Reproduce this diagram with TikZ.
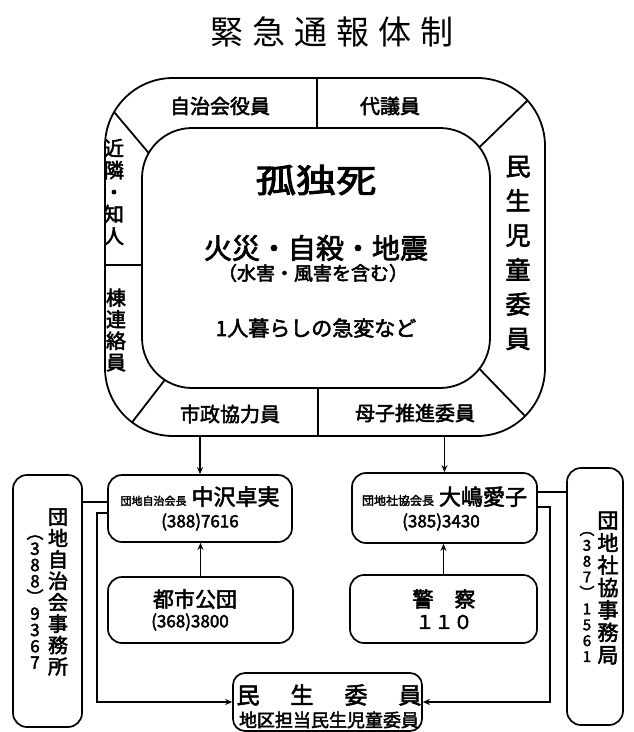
\documentclass[tikz,border=0pt]{standalone}
\usepackage{fontspec}
\usepackage{graphicx}
\newfontfamily\cjk[AutoFakeBold=2.5,BoldFeatures={FakeBold=1.2}]{Noto Sans CJK JP}
\usetikzlibrary{arrows.meta}
\newcommand\jf[2]{\cjk\bfseries\fontsize{#1}{#2}\selectfont}
\begin{document}
\begin{tikzpicture}[x=1pt,y=-1pt,
  ringline/.style={draw, line width=1.8pt, inner sep=0pt},
  box/.style={draw, line width=1.7pt, rounded corners=14pt, inner sep=0pt},
  lbl/.style={inner sep=0pt, align=center},
  conn/.style={line width=1.7pt},
  arr/.style={conn, -{Stealth[length=7pt,width=6pt]}},
]
\useasboundingbox[fill=white] (0,0) rectangle (633,732);

% title
\node[lbl, font=\cjk\fontsize{33}{36}\selectfont] (title) at (332,32)
  {緊\hspace{9pt}急\hspace{9pt}通\hspace{9pt}報\hspace{9pt}体\hspace{9pt}制};

% ring
\node[ringline, rounded corners=68pt, minimum width=440pt, minimum height=358pt] (ring) at (325,257) {};
\node[ringline, rounded corners=50pt, minimum width=348pt, minimum height=260pt] (core) at (316,258) {};

% dividers of the ring
\draw[line width=1.8pt] (317,78) -- (317,128);
\draw[line width=1.8pt] (318,388) -- (318,436);
\draw[line width=1.8pt] (105,265) -- (142,265);
\draw[line width=1.8pt] ([shift={(210:68)}]173,146) -- ([shift={(210:50)}]192,178);
\draw[line width=1.8pt] ([shift={(318:68)}]477,146) -- ([shift={(322:50)}]440,178);
\draw[line width=1.8pt] ([shift={(127:68)}]173,368) -- ([shift={(123:50)}]192,338);
\draw[line width=1.8pt] ([shift={(45:68)}]477,368) -- ([shift={(38:50)}]440,338);

% ring labels
\node[lbl, font=\jf{20}{22}] (jichikai) at (220,106) {自治会役員};
\node[lbl, font=\jf{20}{22}] (daigi) at (390,106) {代議員};
\node[lbl, font=\jf{20}{22}] (kinrin) at (114,192) {近\\隣\\・\\知\\人};
\node[lbl, font=\jf{20}{21.5}] (mune) at (116,330) {棟\\連\\絡\\員};
\node[lbl, font=\jf{25}{34.5}] (minji) at (518,253) {民\\生\\児\\童\\委\\員};
\node[lbl, font=\jf{20}{22}] (shisei) at (230,414) {市政協力員};
\node[lbl, font=\jf{20}{22}] (boshi) at (415,413) {母子推進委員};

% core texts
\node[lbl, font=\jf{33}{36}] (kodoku) at (316,180) {\scalebox{1.22}[1]{孤独死}};
\node[lbl, font=\jf{28}{30}] (kasai) at (316,248) {火災・自殺・地震};
\node[lbl, font=\jf{19}{22}] (suigai) at (313,273) {（水害・風害を含む）};
\node[lbl, font=\jf{21}{24}] (kurashi) at (316,328) {1人暮らしの急変など};

% lower boxes
\node[box, minimum width=184pt, minimum height=67pt] (zhong) at (200,508.5) {};
\node[lbl, anchor=base] (zhongt) at (200,505)
  {{\jf{11}{12}団地自治会長}\hspace{5pt}{\jf{22}{24}中沢卓実}};
\node[lbl, font=\jf{17}{20}] (zhongp) at (200,522) {(388)7616};

\node[box, minimum width=185pt, minimum height=70pt] (ooshima) at (444.5,508) {};
\node[lbl, anchor=base] (ooshimat) at (444.5,505)
  {{\jf{12}{13}団地社協会長}\hspace{5pt}{\jf{22}{24}大嶋愛子}};
\node[lbl, font=\jf{17}{20}] (ooshimap) at (441,522) {(385)3430};

\node[box, minimum width=185pt, minimum height=66pt] (toshi) at (200.5,610) {};
\node[lbl, font=\jf{21}{24}] (toshit) at (195,599) {都市公団};
\node[lbl, font=\jf{17}{20}] (toship) at (190,622) {(368)3800};

\node[box, minimum width=187pt, minimum height=68pt] (keisatsu) at (443.5,609) {};
\node[lbl, font=\jf{21}{24}] (keisatsut) at (444,599) {警　察};
\node[lbl, font=\jf{19}{22}] (keisatsup) at (444,622) {１１０};

\node[box, rounded corners=12pt, minimum width=189pt, minimum height=58pt] (minsei) at (327.5,702) {};
\node[lbl, font=\jf{23}{26}] (minseit) at (329,695)
  {民\hspace{31pt}生\hspace{31pt}委\hspace{31pt}員};
\node[lbl, font=\jf{18}{20}] (minseis) at (329,720) {地区担当民生児童委員};

\node[box, minimum width=69pt, minimum height=252pt] (lefttall) at (47.5,601) {};
\node[lbl, font=\jf{20}{21.4}] (lefttallt) at (58,592) {団\\地\\自\\治\\会\\事\\務\\所};
\node[lbl, font=\jf{17}{16.25}] (lefttallp) at (35,602) {︵\\3\\8\\8\\︶\\9\\3\\6\\7};

\node[box, minimum width=56pt, minimum height=257pt] (righttall) at (595,596.5) {};
\node[lbl, font=\jf{21}{22.4}] (righttallt) at (608,588) {団\\地\\社\\協\\事\\務\\局};
\node[lbl, font=\jf{15}{15.9}] (righttallp) at (587,597) {︵\\3\\8\\7\\︶\\1\\5\\6\\1};

% connectors
\draw[arr] (zhong.north |- ring.south) -- (zhong.north);
\draw[arr] (ooshima.north |- ring.south) -- (ooshima.north);
\draw[arr] (toshi.north) -- (toshi.north |- zhong.south);
\draw[arr] (keisatsu.north) -- (keisatsu.north |- ooshima.south);
\draw[conn] (lefttall.east |- 0,502) -- (zhong.west |- 0,502);
\draw[conn] (righttall.west |- 0,492) -- (ooshima.east |- 0,492);
\draw[arr] (zhong.west |- 0,513) -- (97,513) |- (minsei.west);
\draw[arr] (ooshima.east |- 0,507) -- (550,507) |- (minsei.east);
\end{tikzpicture}
\end{document}
